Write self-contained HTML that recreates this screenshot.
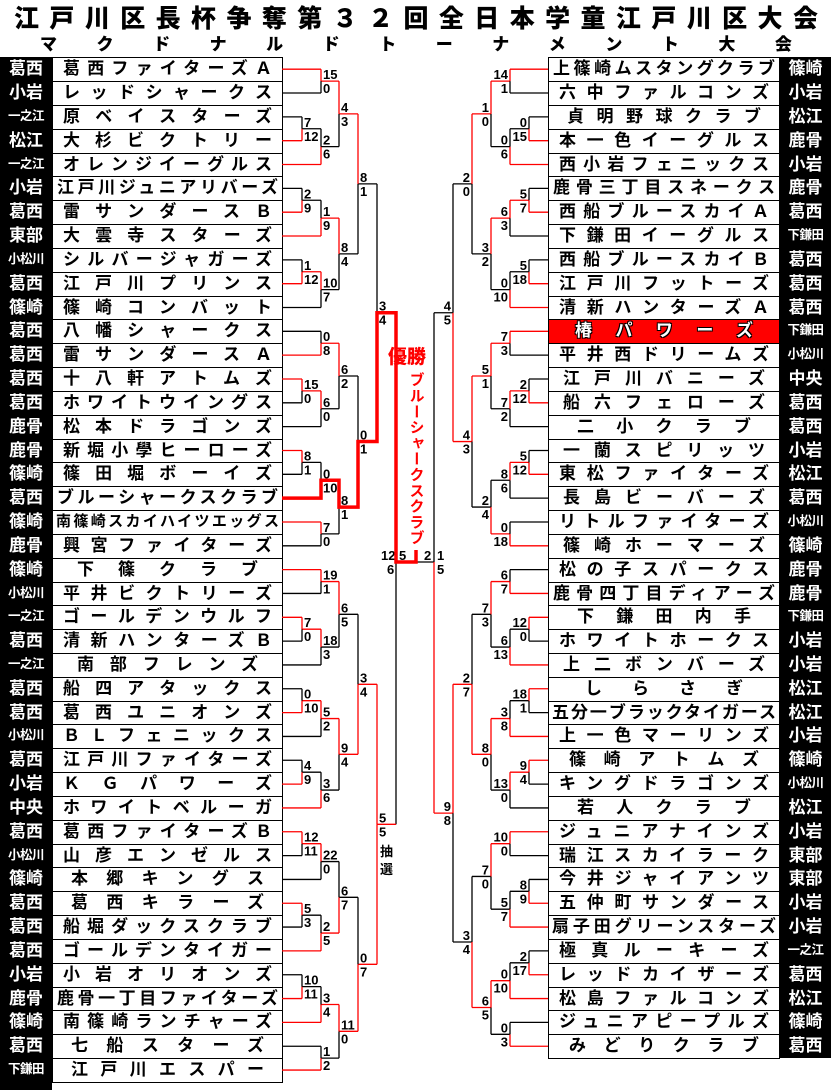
<!DOCTYPE html>
<html><head><meta charset="utf-8">
<style>
*{margin:0;padding:0;box-sizing:border-box}
body{width:831px;height:1090px;background:#fff;position:relative;overflow:hidden;font-family:"Liberation Sans","Noto Sans CJK JP",sans-serif}
.t1{position:absolute;left:14px;top:3px;width:804px;height:32px;font-size:25px;font-weight:900;display:flex;justify-content:space-between;line-height:32px}
.t2{position:absolute;left:40px;top:34px;width:752px;height:22px;font-size:17px;font-weight:900;display:flex;justify-content:space-between;line-height:22px}
.dist{position:absolute;background:#000;color:#fff;font-weight:bold}
.dist div{height:23.83px;line-height:23.83px;text-align:center;font-size:17px}
.dist div.s{font-size:12.5px;letter-spacing:-0.5px}
.teams{position:absolute;border-left:1px solid #000;border-right:1px solid #000;border-bottom:1px solid #000}
.teams div{height:23.83px;line-height:22.5px;border-top:1px solid #000;font-size:17px;font-weight:bold;text-align:justify;text-align-last:justify;padding:0 10px;white-space:nowrap;overflow:hidden}
.teams div.h{background:#f00;color:#fff;text-shadow:-1px -1px 0 #000,1px -1px 0 #000,-1px 1px 0 #000,1px 1px 0 #000;padding:0 26px}
svg{position:absolute;left:0;top:0}
</style></head><body>
<div class="t1"><span>江</span><span>戸</span><span>川</span><span>区</span><span>長</span><span>杯</span><span>争</span><span>奪</span><span>第</span><span>３</span><span>２</span><span>回</span><span>全</span><span>日</span><span>本</span><span>学</span><span>童</span><span>江</span><span>戸</span><span>川</span><span>区</span><span>大</span><span>会</span></div>
<div class="t2"><span>マ</span><span>ク</span><span>ド</span><span>ナ</span><span>ル</span><span>ド</span><span>ト</span><span>ー</span><span>ナ</span><span>メ</span><span>ン</span><span>ト</span><span>大</span><span>会</span></div>

<div class="dist" style="left:0;top:57.3px;width:52px;height:1033px">
<div>葛西</div><div>小岩</div><div class="s">一之江</div><div>松江</div><div class="s">一之江</div><div>小岩</div><div>葛西</div><div>東部</div><div class="s">小松川</div><div>葛西</div><div>篠崎</div><div>葛西</div><div>葛西</div><div>葛西</div><div>葛西</div><div>鹿骨</div><div>鹿骨</div><div>篠崎</div><div>葛西</div><div>篠崎</div><div>鹿骨</div><div>篠崎</div><div class="s">小松川</div><div class="s">一之江</div><div>葛西</div><div class="s">一之江</div><div>葛西</div><div>葛西</div><div class="s">小松川</div><div>葛西</div><div>小岩</div><div>中央</div><div>葛西</div><div class="s">小松川</div><div>篠崎</div><div>葛西</div><div>葛西</div><div>葛西</div><div>小岩</div><div>鹿骨</div><div>篠崎</div><div>葛西</div><div class="s">下鎌田</div>
</div>
<div class="teams" style="left:52px;top:57.3px;width:231px">
<div>葛西ファイターズＡ</div><div>レッドシャークス</div><div>原ベイスターズ</div><div>大杉ビクトリー</div><div>オレンジイーグルス</div><div style="padding:0 4px">江戸川ジュニアリバーズ</div><div>雷サンダースＢ</div><div>大雲寺スターズ</div><div>シルバージャガーズ</div><div>江戸川プリンス</div><div>篠崎コンバット</div><div>八幡シャークス</div><div>雷サンダースＡ</div><div>十八軒アトムズ</div><div>ホワイトウイングス</div><div>松本ドラゴンズ</div><div>新堀小學ヒーローズ</div><div>篠田堀ボーイズ</div><div style="padding:0 4px">ブルーシャークスクラブ</div><div style="font-size:15px;padding:0 3px">南篠崎スカイハイツエッグス</div><div>興宮ファイターズ</div><div style="padding:0 24px">下篠クラブ</div><div>平井ビクトリーズ</div><div>ゴールデンウルフ</div><div>清新ハンターズＢ</div><div style="padding:0 24px">南部フレンズ</div><div>船四アタックス</div><div>葛西ユニオンズ</div><div>ＢＬフェニックス</div><div>江戸川ファイターズ</div><div>ＫＧパワーズ</div><div>ホワイトベルーガ</div><div>葛西ファイターズＢ</div><div>山彦エンゼルス</div><div style="padding:0 18px">本郷キングス</div><div style="padding:0 18px">葛西キラーズ</div><div>船堀ダックスクラブ</div><div>ゴールデンタイガー</div><div>小岩オリオンズ</div><div style="padding:0 4px">鹿骨一丁目ファイターズ</div><div>南篠崎ランチャーズ</div><div style="padding:0 18px">七船スターズ</div><div style="padding:0 18px">江戸川エスパー</div>
</div>

<div class="teams" style="left:548px;top:57.3px;width:232px">
<div style="padding:0 4px">上篠崎ムスタングクラブ</div><div>六中ファルコンズ</div><div style="padding:0 18px">貞明野球クラブ</div><div>本一色イーグルス</div><div>西小岩フェニックス</div><div style="padding:0 4px">鹿骨三丁目スネークス</div><div>西船ブルースカイＡ</div><div>下鎌田イーグルス</div><div>西船ブルースカイＢ</div><div>江戸川フットーズ</div><div>清新ハンターズＡ</div><div class="h">椿パワーズ</div><div>平井西ドリームズ</div><div style="padding:0 14px">江戸川バニーズ</div><div style="padding:0 14px">船六フェローズ</div><div style="padding:0 28px">二小クラブ</div><div style="padding:0 14px">一蘭スピリッツ</div><div>東松ファイターズ</div><div style="padding:0 14px">長島ビーバーズ</div><div>リトルファイターズ</div><div style="padding:0 14px">篠崎ホーマーズ</div><div>松の子スパークス</div><div style="padding:0 4px">鹿骨四丁目ディアーズ</div><div style="padding:0 28px">下鎌田内手</div><div>ホワイトホークス</div><div style="padding:0 14px">上二ボンバーズ</div><div style="padding:0 36px">しらさぎ</div><div style="padding:0 3px">五分一ブラックタイガース</div><div>上一色マーリンズ</div><div style="padding:0 20px">篠崎アトムズ</div><div>キングドラゴンズ</div><div style="padding:0 28px">若人クラブ</div><div>ジュニアナインズ</div><div>瑞江スカイラーク</div><div>今井ジャイアンツ</div><div>五仲町サンダース</div><div style="padding:0 3px">扇子田グリーンスターズ</div><div>極真ルーキーズ</div><div>レッドカイザーズ</div><div>松島ファルコンズ</div><div>ジュニアピープルズ</div><div style="padding:0 20px">みどりクラブ</div>
</div>
<div class="dist" style="left:780px;top:57.3px;width:51px;height:1001px">
<div>篠崎</div><div>小岩</div><div>松江</div><div>鹿骨</div><div>小岩</div><div>鹿骨</div><div>葛西</div><div class="s">下鎌田</div><div>葛西</div><div>葛西</div><div>葛西</div><div class="s">下鎌田</div><div class="s">小松川</div><div>中央</div><div>葛西</div><div>葛西</div><div>小岩</div><div>松江</div><div>葛西</div><div class="s">小松川</div><div>篠崎</div><div>鹿骨</div><div>鹿骨</div><div class="s">下鎌田</div><div>小岩</div><div>小岩</div><div>松江</div><div>松江</div><div>小岩</div><div>篠崎</div><div class="s">小松川</div><div>松江</div><div>小岩</div><div>東部</div><div>東部</div><div>小岩</div><div>小岩</div><div class="s">一之江</div><div>葛西</div><div>松江</div><div>篠崎</div><div>葛西</div>
</div>

<svg id="b" width="831" height="1090" xmlns="http://www.w3.org/2000/svg" font-family="Liberation Sans, sans-serif" font-size="13" font-weight="bold">
<text x="388" y="363" fill="#f00" font-size="19" font-weight="900" font-family="Liberation Sans, Noto Sans CJK JP, sans-serif">優勝</text>
<text x="416" y="372" fill="#f00" font-size="15" font-weight="bold" font-family="Liberation Sans, Noto Sans CJK JP, sans-serif" style="writing-mode:vertical-rl;letter-spacing:0.8px">ブルーシャークスクラブ</text>
<text x="380" y="856" font-size="13" font-family="Liberation Sans, Noto Sans CJK JP, sans-serif">抽</text>
<text x="380" y="874" font-size="13" font-family="Liberation Sans, Noto Sans CJK JP, sans-serif">選</text>
<text x="381" y="560">12</text><text x="387" y="574">6</text>
<text x="399" y="560">5</text><text x="424" y="560">2</text>
<text x="437" y="560">1</text><text x="437" y="574">5</text>
</svg>
<script>
var S=document.getElementById('b'),NS='http://www.w3.org/2000/svg';
function Y(i){return 69.2+23.83*i}
function ln(x1,y1,x2,y2,c,w){var e=document.createElementNS(NS,'line');e.setAttribute('x1',x1);e.setAttribute('y1',y1);e.setAttribute('x2',x2);e.setAttribute('y2',y2);e.setAttribute('stroke',c);e.setAttribute('stroke-width',w||1.3);S.insertBefore(e,S.firstChild);}
function tx(x,y,s,a){var e=document.createElementNS(NS,'text');e.setAttribute('x',x);e.setAttribute('y',y);if(a)e.setAttribute('text-anchor','end');e.textContent=s;S.appendChild(e);}
var RD='#f00',BK='#000';
function L(i){return {x:282,y:Y(i)}}
function R(i){return {x:548,y:Y(i)}}
function M(s,X,a,b,sa,sb,w){
 var m=(a.y+b.y)/2,ca=(w==0||w==2)?RD:BK,cb=(w==1||w==2)?RD:BK;
 ln(a.x,a.y,X,a.y,ca);ln(b.x,b.y,X,b.y,cb);ln(X,a.y,X,m,ca);ln(X,m,X,b.y,cb);
 if(s=='L'){tx(X+2,m-2,sa);tx(X+2,m+12,sb);}else{tx(X-2,m-2,sa,1);tx(X-2,m+12,sb,1);}
 return {x:X,y:m};
}
var a01=M('L',321,L(0),L(1),'15','0',0);
var a23=M('L',302,L(2),L(3),'7','12',1);
var a234=M('L',321,a23,L(4),'2','6',1);
var a04=M('L',339,a01,a234,'4','3',0);
var a56=M('L',302,L(5),L(6),'2','9',1);
var a567=M('L',321,a56,L(7),'1','9',1);
var a89=M('L',302,L(8),L(9),'1','12',1);
var a8910=M('L',321,a89,L(10),'10','7',0);
var a510=M('L',339,a567,a8910,'8','4',0);
var a010=M('L',358,a04,a510,'8','1',0);
var b1112=M('L',321,L(11),L(12),'0','8',1);
var b1314=M('L',302,L(13),L(14),'15','0',0);
var b1315=M('L',321,b1314,L(15),'6','0',0);
var b1115=M('L',339,b1112,b1315,'6','2',0);
var b1617=M('L',302,L(16),L(17),'8','1',0);
var b1618=M('L',321,b1617,L(18),'0','10',1);
var b1920=M('L',321,L(19),L(20),'7','0',0);
var b1620=M('L',339,b1618,b1920,'8','1',0);
var b1120=M('L',358,b1115,b1620,'0','1',1);
var SL1=M('L',377,a010,b1120,'3','4',1);
var c2122=M('L',321,L(21),L(22),'19','1',0);
var c2324=M('L',302,L(23),L(24),'7','0',0);
var c2325=M('L',321,c2324,L(25),'18','3',0);
var c2125=M('L',339,c2122,c2325,'6','5',0);
var c2627=M('L',302,L(26),L(27),'0','10',1);
var c2628=M('L',321,c2627,L(28),'5','2',0);
var c2930=M('L',302,L(29),L(30),'4','9',1);
var c2931=M('L',321,c2930,L(31),'3','6',1);
var c2631=M('L',339,c2628,c2931,'9','4',0);
var c2131=M('L',358,c2125,c2631,'3','4',1);
var d3233=M('L',302,L(32),L(33),'12','11',0);
var d3234=M('L',321,d3233,L(34),'22','0',0);
var d3536=M('L',302,L(35),L(36),'5','3',0);
var d3537=M('L',321,d3536,L(37),'2','5',1);
var d3237=M('L',339,d3234,d3537,'6','7',1);
var d3839=M('L',302,L(38),L(39),'10','11',1);
var d3840=M('L',321,d3839,L(40),'3','4',1);
var d4142=M('L',321,L(41),L(42),'1','2',1);
var d3842=M('L',339,d3840,d4142,'11','0',0);
var d3242=M('L',358,d3237,d3842,'0','7',1);
var SL2=M('L',377,c2131,d3242,'5','5',2);
var e01=M('R',510,R(0),R(1),'14','1',0);
var e23=M('R',529,R(2),R(3),'0','15',1);
var e234=M('R',510,e23,R(4),'0','6',1);
var e04=M('R',491,e01,e234,'1','0',0);
var e56=M('R',529,R(5),R(6),'5','7',1);
var e567=M('R',510,e56,R(7),'6','3',0);
var e89=M('R',529,R(8),R(9),'5','18',1);
var e8910=M('R',510,e89,R(10),'0','10',1);
var e510=M('R',491,e567,e8910,'3','2',0);
var e010=M('R',472,e04,e510,'2','0',0);
var f1112=M('R',510,R(11),R(12),'7','3',0);
var f1314=M('R',529,R(13),R(14),'2','12',1);
var f1315=M('R',510,f1314,R(15),'7','2',0);
var f1115=M('R',491,f1112,f1315,'5','1',0);
var f1617=M('R',529,R(16),R(17),'5','12',1);
var f1618=M('R',510,f1617,R(18),'8','6',0);
var f1920=M('R',510,R(19),R(20),'0','18',1);
var f1620=M('R',491,f1618,f1920,'2','4',1);
var f1120=M('R',472,f1115,f1620,'4','3',0);
var SR1=M('R',453,e010,f1120,'4','5',1);
var g2122=M('R',510,R(21),R(22),'6','7',1);
var g2324=M('R',529,R(23),R(24),'12','0',0);
var g2325=M('R',510,g2324,R(25),'6','13',1);
var g2125=M('R',491,g2122,g2325,'7','3',0);
var g2627=M('R',529,R(26),R(27),'18','1',0);
var g2628=M('R',510,g2627,R(28),'3','8',1);
var g2930=M('R',529,R(29),R(30),'9','4',0);
var g2931=M('R',510,g2930,R(31),'13','0',0);
var g2631=M('R',491,g2628,g2931,'8','0',0);
var g2131=M('R',472,g2125,g2631,'2','7',1);
var h3233=M('R',510,R(32),R(33),'10','0',0);
var h3435=M('R',529,R(34),R(35),'8','9',1);
var h3436=M('R',510,h3435,R(36),'5','7',1);
var h3236=M('R',491,h3233,h3436,'7','0',0);
var h3738=M('R',529,R(37),R(38),'2','17',1);
var h3739=M('R',510,h3738,R(39),'0','10',1);
var h4041=M('R',510,R(40),R(41),'0','3',1);
var h3741=M('R',491,h3739,h4041,'6','5',0);
var h3241=M('R',472,h3236,h3741,'3','4',1);
var SR2=M('R',453,g2131,h3241,'9','8',0);
var FY=562;
ln(377,SL2.y,396,SL2.y,RD);
ln(396,FY,396,SL2.y,BK);
ln(453,SR1.y,434,SR1.y,BK);
ln(453,SR2.y,434,SR2.y,RD);
ln(434,SR1.y,434,FY,BK);
ln(434,FY,434,SR2.y,RD);
ln(416,FY,434,FY,BK);
var p=document.createElementNS(NS,'polyline');
var pts=[[282,Y(18)],[321,Y(18)],[321,b1618.y],[339,b1618.y],[339,b1620.y],[358,b1620.y],[358,b1120.y],[377,b1120.y],[377,SL1.y],[396,SL1.y],[396,FY],[416,FY],[416,FY-12]];
p.setAttribute('points',pts.map(function(q){return q[0]+','+q[1]}).join(' '));
p.setAttribute('fill','none');p.setAttribute('stroke',RD);p.setAttribute('stroke-width','3.5');
S.appendChild(p);
</script>
</body></html>
